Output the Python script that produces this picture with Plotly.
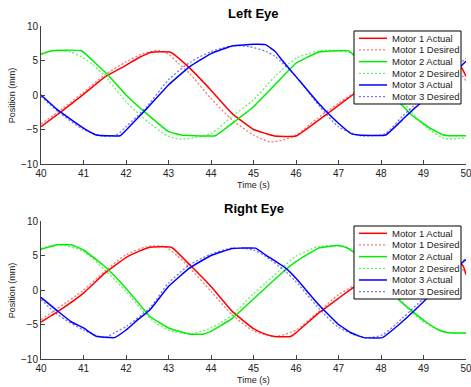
import plotly.graph_objects as go

# ---------------- data ----------------
X_TICKS = [40, 41, 42, 43, 44, 45, 46, 47, 48, 49, 50]
Y_TICKS = [-10, -5, 0, 5, 10]
LEGEND_LABELS = ["Motor 1 Actual", "Motor 1 Desired", "Motor 2 Actual",
                 "Motor 2 Desired", "Motor 3 Actual", "Motor 3 Desired"]
TITLES = ["Left Eye", "Right Eye"]

# Left eye
L_M1_ACT_T = [40, 40.5, 41, 41.5, 42, 42.3, 42.6, 43.05, 43.5, 44, 44.5, 45.0, 45.3, 45.5, 46.0, 46.5, 47.0, 47.33, 47.6, 48.0, 48.5, 48.8, 49.3, 49.6, 49.9, 50]
L_M1_ACT_V = [-4.6, -2.3, 0.1, 2.6, 4.3, 5.4, 6.2, 6.2, 3.9, 0.7, -2.7, -5.0, -5.6, -5.95, -5.95, -3.8, -1.5, 0.0, 1.2, 3.0, 5.2, 6.2, 6.2, 5.4, 3.9, 2.7]
L_M1_DES_T = [40, 40.5, 41, 41.5, 42, 42.4, 42.75, 43.0, 43.23, 43.5, 44, 44.5, 45.0, 45.4, 45.7, 46.0, 46.5, 47.0, 47.6, 48.2, 48.7, 49.2, 49.6, 50]
L_M1_DES_V = [-4.2, -2.0, 0.4, 2.9, 4.8, 6.0, 6.45, 5.9, 4.6, 3.1, -0.5, -3.6, -5.8, -6.8, -6.5, -5.8, -3.4, -1.2, 1.4, 4.2, 6.0, 6.4, 5.0, 2.1]
L_M2_ACT_T = [40, 40.25, 40.95, 41.3, 41.58, 42.0, 42.56, 43.0, 43.3, 43.6, 44.1, 44.5, 45.0, 45.5, 46.0, 46.53, 47.0, 47.24, 47.8, 48.49, 48.72, 49.15, 49.47, 49.6, 50]
L_M2_ACT_V = [5.9, 6.42, 6.42, 4.5, 2.9, 0.0, -3.1, -5.3, -5.8, -5.9, -5.9, -4.1, -1.7, 1.45, 4.6, 6.2, 6.4, 6.4, 3.0, -1.45, -2.9, -4.8, -5.8, -5.9, -5.9]
L_M2_DES_T = [40, 40.4, 40.7, 40.95, 41.2, 41.58, 42.0, 42.56, 43.0, 43.3, 43.6, 44.0, 44.5, 45.0, 45.5, 46.0, 46.53, 47.0, 47.4, 47.9, 48.58, 49.05, 49.5, 50]
L_M2_DES_V = [6.0, 6.5, 6.2, 5.55, 4.5, 2.2, -0.97, -4.1, -6.0, -6.4, -6.2, -5.6, -3.1, -0.7, 2.65, 5.3, 6.4, 6.4, 5.9, 3.2, -1.5, -4.6, -6.3, -6.2]
L_M3_ACT_T = [40, 40.4, 41.0, 41.3, 41.86, 42.0, 42.5, 43.0, 43.5, 44.0, 44.5, 45.0, 45.28, 45.51, 45.67, 46.0, 46.53, 47.0, 47.3, 47.48, 48.11, 48.5, 48.74, 49.0, 49.15, 49.5, 50]
L_M3_ACT_V = [0.0, -2.2, -4.8, -5.8, -5.9, -5.1, -1.9, 1.45, 4.1, 6.0, 7.1, 7.35, 7.3, 6.3, 5.07, 2.66, -1.2, -4.1, -5.6, -5.8, -5.8, -3.6, -2.2, -0.8, -0.24, 1.9, 4.9]
L_M3_DES_T = [40, 40.4, 41.0, 41.5, 41.8, 42.0, 42.5, 43.0, 43.5, 44.0, 44.5, 44.9, 45.3, 45.5, 46.0, 46.53, 47.0, 47.5, 47.8, 48.1, 48.5, 49.0, 49.5, 50]
L_M3_DES_V = [-0.2, -2.4, -5.0, -6.0, -5.7, -4.6, -1.6, 2.2, 4.7, 6.3, 7.1, 7.0, 6.3, 5.6, 2.7, -1.45, -4.6, -5.9, -5.9, -5.6, -3.1, -0.2, 2.8, 5.3]

# Right eye
R_M1_ACT_T = [40, 40.4, 41.0, 41.5, 42.0, 42.3, 42.56, 43.07, 43.5, 44.0, 44.5, 45.0, 45.28, 45.5, 45.87, 46.0, 46.53, 47.0, 47.33, 47.6, 48.0, 48.5, 48.8, 49.3, 49.6, 49.94, 50]
R_M1_ACT_V = [-4.65, -3.1, -0.45, 2.45, 4.7, 5.6, 6.2, 6.2, 3.65, 0.5, -3.1, -5.6, -6.4, -6.75, -6.75, -6.2, -3.35, -1.2, 0.27, 1.25, 2.9, 5.0, 6.0, 6.2, 5.5, 3.4, 2.2]
R_M1_DES_T = [40, 41.0, 41.5, 42.0, 42.5, 42.9, 43.2, 43.5, 44.0, 44.5, 45.0, 45.5, 46.0, 46.5, 47.0, 47.6, 48.2, 48.7, 49.2, 49.6, 50]
R_M1_DES_V = [-4.3, 0.0, 2.7, 5.1, 6.3, 6.3, 5.0, 3.2, -0.2, -3.6, -5.9, -6.75, -5.8, -3.3, -0.7, 1.5, 4.2, 6.0, 6.3, 5.0, 2.4]
R_M2_ACT_T = [40, 40.4, 40.71, 41.0, 41.5, 42.0, 42.56, 43.0, 43.5, 43.8, 44.0, 44.5, 45.0, 45.28, 45.75, 46.0, 46.53, 47.0, 47.2, 47.8, 48.42, 48.74, 49.05, 49.36, 49.6, 50]
R_M2_ACT_V = [5.9, 6.55, 6.55, 5.8, 3.4, 0.27, -3.8, -5.5, -6.4, -6.4, -6.0, -4.1, -1.3, 0.3, 2.9, 4.1, 6.07, 6.45, 6.1, 3.5, -1.4, -3.1, -4.6, -5.8, -6.2, -6.25]
R_M2_DES_T = [40, 40.4, 41.0, 41.5, 42.0, 42.56, 43.0, 43.5, 44.0, 44.5, 45.0, 45.28, 45.75, 46.0, 46.53, 47.0, 47.3, 47.8, 48.4, 48.74, 49.05, 49.5, 50]
R_M2_DES_V = [6.0, 6.6, 5.6, 2.9, -0.2, -4.1, -5.8, -6.35, -5.5, -3.6, -0.5, 1.0, 3.65, 4.9, 6.3, 6.4, 6.0, 3.8, -1.0, -3.35, -4.8, -6.1, -6.2]
R_M3_ACT_T = [40, 40.4, 40.71, 41.0, 41.3, 41.73, 42.0, 42.28, 42.56, 43.0, 43.5, 44.0, 44.5, 44.7, 45.05, 45.28, 45.75, 46.0, 46.53, 47.0, 47.3, 47.6, 48.03, 48.5, 49.0, 49.5, 49.9, 50]
R_M3_ACT_V = [-1.08, -3.1, -4.6, -5.5, -6.7, -6.9, -5.8, -4.3, -2.9, 0.5, 3.2, 5.0, 6.0, 6.07, 6.07, 5.1, 3.2, 1.7, -2.1, -5.0, -6.2, -6.9, -6.9, -4.6, -1.7, 1.4, 3.9, 4.4]
R_M3_DES_T = [40, 40.4, 41.0, 41.5, 41.73, 42.0, 42.56, 43.0, 43.5, 44.0, 44.5, 45.0, 45.28, 45.75, 46.0, 46.53, 47.0, 47.6, 48.03, 48.5, 49.0, 49.5, 50]
R_M3_DES_V = [-1.4, -3.6, -5.8, -6.9, -6.2, -5.3, -2.6, 1.0, 3.65, 5.2, 6.07, 5.8, 4.9, 2.7, 1.2, -2.6, -5.4, -6.9, -6.5, -4.1, -1.2, 1.8, 4.6]

# ---------------- styling ----------------
FONT = "Liberation Sans, Arial, Helvetica, sans-serif"
ACT_COLORS = ["#ff0000", "#00ee00", "#0000ff"]
DES_COLORS = ["rgba(255,0,0,0.55)", "rgba(0,230,0,0.6)", "rgba(0,0,255,0.55)"]
DOT = "2px,2px"

fig = go.Figure()

def add_line(t, v, color, dash, width, smooth, xa, ya):
    fig.add_trace(go.Scatter(x=t, y=v, mode="lines",
                             line=dict(color=color, width=width, dash=dash,
                                       shape="spline", smoothing=smooth),
                             xaxis=xa, yaxis=ya, showlegend=False, hoverinfo="skip"))

panels = [
    ("x", "y", [(L_M1_ACT_T, L_M1_ACT_V, L_M1_DES_T, L_M1_DES_V),
                (L_M2_ACT_T, L_M2_ACT_V, L_M2_DES_T, L_M2_DES_V),
                (L_M3_ACT_T, L_M3_ACT_V, L_M3_DES_T, L_M3_DES_V)]),
    ("x2", "y2", [(R_M1_ACT_T, R_M1_ACT_V, R_M1_DES_T, R_M1_DES_V),
                  (R_M2_ACT_T, R_M2_ACT_V, R_M2_DES_T, R_M2_DES_V),
                  (R_M3_ACT_T, R_M3_ACT_V, R_M3_DES_T, R_M3_DES_V)]),
]

PLOT_L, PLOT_W, PLOT_H = 41, 425, 138

def dx(px):
    return (px - PLOT_L) / PLOT_W

def dy(rel):
    return 1 - rel / PLOT_H

for pi, (xa, ya, series) in enumerate(panels):
    for i, (at, av, dt, dv) in enumerate(series):
        add_line(at, av, ACT_COLORS[i], "solid", 1.5, 0.35, xa, ya)
        add_line(dt, dv, DES_COLORS[i], DOT, 1.3, 0.7, xa, ya)

    xr = xa + " domain"
    yr = ya + " domain"
    # legend box
    fig.add_shape(type="rect", xref=xr, yref=yr, x0=dx(354), x1=dx(461),
                  y0=dy(5), y1=dy(78), line=dict(color="black", width=1),
                  fillcolor="white")
    for k, lab in enumerate(LEGEND_LABELS):
        yc = dy(12.3 + 11.67 * k)
        m = k // 2
        desired = (k % 2 == 1)
        fig.add_shape(type="line", xref=xr, yref=yr, x0=dx(359), x1=dx(387),
                      y0=yc, y1=yc,
                      line=dict(color=DES_COLORS[m] if desired else ACT_COLORS[m],
                                width=1.3 if desired else 1.5,
                                dash=DOT if desired else "solid"))
        fig.add_annotation(xref=xr, yref=yr, x=dx(389.5), y=yc, text=lab,
                           showarrow=False, xanchor="left", yanchor="middle",
                           font=dict(family=FONT, size=9.5, color="#222"))
    # title
    fig.add_annotation(xref=xr, yref=yr, x=0.5, y=1 + 13 / PLOT_H,
                       text="<b>" + TITLES[pi] + "</b>", showarrow=False,
                       xanchor="center", yanchor="middle",
                       font=dict(family=FONT, size=13, color="black"))
    # axis titles
    fig.add_annotation(xref=xr, yref=yr, x=0.5, y=dy(158.6), text="Time (s)",
                       showarrow=False, xanchor="center", yanchor="middle",
                       font=dict(family=FONT, size=9, color="#222"))
    fig.add_annotation(xref=xr, yref=yr, x=dx(12.3), y=0.5, text="Position (mm)",
                       textangle=-90, showarrow=False, xanchor="center",
                       yanchor="middle", font=dict(family=FONT, size=9, color="#222"))

axis_common = dict(showline=True, linecolor="#404040", linewidth=1,
                   ticks="inside", ticklen=4, tickcolor="#404040", tickwidth=1,
                   showgrid=False, zeroline=False, mirror=False,
                   ticklabeloverflow="allow",
                   tickfont=dict(family=FONT, size=10, color="#222"))

fig.update_layout(
    width=471, height=387,
    margin=dict(l=41, r=5, t=26, b=28, pad=0, autoexpand=False),
    plot_bgcolor="white", paper_bgcolor="white",
    showlegend=False,
    xaxis=dict(domain=[0, 1], anchor="y", range=[40, 50], tickvals=X_TICKS, **axis_common),
    yaxis=dict(domain=[0.5856, 1], anchor="x", range=[-10, 10], tickvals=Y_TICKS, **axis_common),
    xaxis2=dict(domain=[0, 1], anchor="y2", range=[40, 50], tickvals=X_TICKS, **axis_common),
    yaxis2=dict(domain=[0, 0.4144], anchor="x2", range=[-10, 10], tickvals=Y_TICKS, **axis_common),
)

fig.write_html("out.html", config={"displayModeBar": False},
               post_script="document.body.style.margin='0px';document.body.style.overflow='hidden';")
